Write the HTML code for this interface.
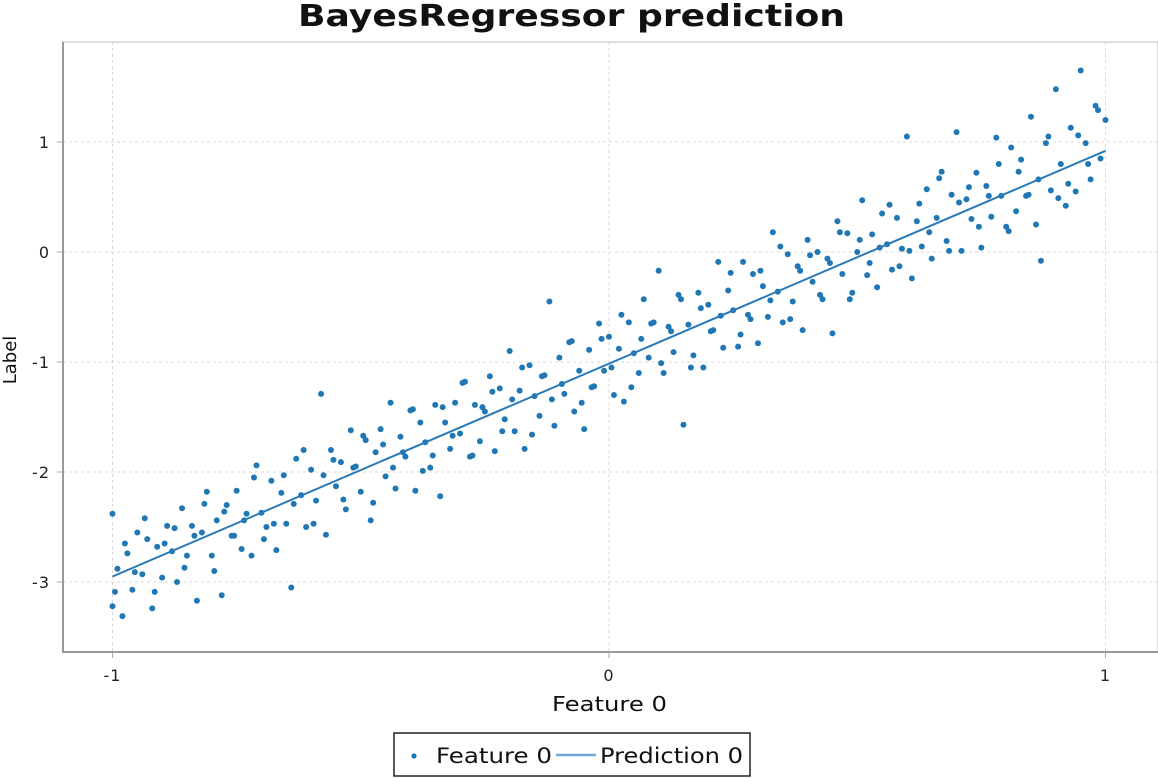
<!DOCTYPE html>
<html><head><meta charset="utf-8"><style>
html,body{margin:0;padding:0;background:#fff;}
svg{display:block;font-family:"DejaVu Sans","Liberation Sans",sans-serif;}
</style></head><body>
<svg id="chart" width="1158" height="778">
<text x="298" y="26" textLength="547" lengthAdjust="spacingAndGlyphs" font-size="30" font-weight="bold" fill="#111">BayesRegressor prediction</text>
<g id="grid"></g>
<rect x="63" y="42" width="1095" height="610" fill="none" stroke="#d4d4d4" stroke-width="1.5"/>
<line x1="63" y1="42" x2="63" y2="653" stroke="#999" stroke-width="2"/>
<line x1="62" y1="652" x2="1158" y2="652" stroke="#999" stroke-width="2"/>
<g id="xticks"></g>
<g id="yticks"></g>
<g id="points"></g>
<g id="pred"></g>
<text x="552" y="711" textLength="115" lengthAdjust="spacingAndGlyphs" font-size="20" fill="#111">Feature 0</text>
<text transform="translate(16,360) rotate(-90)" text-anchor="middle" font-size="18" fill="#111">Label</text>
<g>
<rect x="394" y="733" width="356" height="43" fill="#fff" stroke="#222" stroke-width="1.5"/>
<circle cx="414" cy="756" r="2.6" fill="#1f77b4"/>
<text x="436" y="763" textLength="116" lengthAdjust="spacingAndGlyphs" font-size="21" fill="#111">Feature 0</text>
<line x1="556" y1="755" x2="596" y2="755" stroke="#6fa8dc" stroke-width="2.5"/>
<text x="600" y="763" textLength="143" lengthAdjust="spacingAndGlyphs" font-size="21" fill="#111">Prediction 0</text>
</g>
</svg>
<script>
const xTicks=[-1,0,1];
const yTicks=[1,0,-1,-2,-3];
const xTickLabels=["-1","0","1"];
const yTickLabels=["1","0","-1","-2","-3"];
const predX=[-1,1];
const predY=[-2.95,0.92];
const ptsX=[-1.00,-1.00,-0.99,-0.98,-0.97,-0.96,-0.95,-0.94,-0.93,-0.92,-0.91,-0.90,-0.89,-0.88,-0.87,-0.86,-0.85,-0.84,-0.83,-0.82,-0.81,-0.80,-0.79,-0.78,-0.77,-0.76,-0.75,-0.74,-0.73,-0.72,-0.71,-0.70,-0.69,-0.68,-0.67,-0.66,-0.65,-0.64,-0.63,-0.62,-0.61,-0.60,-0.59,-0.58,-0.57,-0.56,-0.55,-0.54,-0.53,-0.52,-0.51,-0.50,-0.49,-0.48,-0.47,-0.46,-0.45,-0.44,-0.43,-0.42,-0.41,-0.40,-0.39,-0.38,-0.37,-0.36,-0.35,-0.34,-0.33,-0.32,-0.31,-0.30,-0.29,-0.28,-0.27,-0.26,-0.25,-0.24,-0.23,-0.22,-0.21,-0.20,-0.19,-0.18,-0.17,-0.16,-0.15,-0.14,-0.13,-0.12,-0.11,-0.10,-0.09,-0.08,-0.07,-0.06,-0.05,-0.04,-0.03,-0.02,-0.01,0.00,0.01,0.02,0.03,0.04,0.05,0.06,0.07,0.08,0.09,0.10,0.11,0.12,0.13,0.14,0.15,0.16,0.17,0.18,0.19,0.20,0.21,0.22,0.23,0.24,0.25,0.26,0.27,0.28,0.29,0.30,0.31,0.32,0.33,0.34,0.35,0.36,0.37,0.38,0.39,0.40,0.41,0.42,0.43,0.44,0.45,0.46,0.47,0.48,0.49,0.50,0.51,0.52,0.53,0.54,0.55,0.56,0.57,0.58,0.59,0.60,0.61,0.62,0.63,0.64,0.65,0.66,0.67,0.68,0.69,0.70,0.71,0.72,0.73,0.74,0.75,0.76,0.77,0.78,0.79,0.80,0.81,0.82,0.83,0.84,0.85,0.86,0.87,0.88,0.89,0.90,0.91,0.92,0.93,0.94,0.95,0.96,0.97,0.98,0.99,1.00,
-0.995,-0.975,-0.955,-0.935,-0.915,-0.895,-0.875,-0.855,-0.835,-0.815,-0.795,-0.775,-0.755,-0.735,-0.715,-0.695,-0.675,-0.655,-0.635,-0.615,-0.595,-0.575,-0.555,-0.535,-0.515,-0.495,-0.475,-0.455,-0.435,-0.415,-0.395,-0.375,-0.355,-0.335,-0.315,-0.295,-0.275,-0.255,-0.235,-0.215,-0.195,-0.175,-0.155,-0.135,-0.115,-0.095,-0.075,-0.055,-0.035,-0.015,0.005,0.025,0.045,0.065,0.085,0.105,0.125,0.145,0.165,0.185,0.205,0.225,0.245,0.265,0.285,0.305,0.325,0.345,0.365,0.385,0.405,0.425,0.445,0.465,0.485,0.505,0.525,0.545,0.565,0.585,0.605,0.625,0.645,0.665,0.685,0.705,0.725,0.745,0.765,0.785,0.805,0.825,0.845,0.865,0.885,0.905,0.925,0.945,0.965,0.985];
const ptsY=[-2.38,-3.22,-2.88,-3.31,-2.74,-3.07,-2.55,-2.93,-2.61,-3.24,-2.68,-2.96,-2.49,-2.72,-3.00,-2.33,-2.76,-2.49,-3.17,-2.55,-2.18,-2.76,-2.44,-3.12,-2.30,-2.58,-2.17,-2.70,-2.38,-2.76,-1.94,-2.37,-2.50,-2.08,-2.71,-2.19,-2.47,-3.05,-1.88,-2.21,-2.50,-1.98,-2.26,-1.29,-2.57,-1.80,-2.13,-1.91,-2.34,-1.62,-1.95,-2.18,-1.71,-2.44,-1.82,-1.61,-2.04,-1.37,-2.15,-1.68,-1.86,-1.44,-2.17,-1.55,-1.73,-1.96,-1.39,-2.22,-1.55,-1.79,-1.37,-1.65,-1.18,-1.86,-1.39,-1.72,-1.45,-1.13,-1.81,-1.24,-1.52,-0.90,-1.63,-1.26,-1.79,-1.03,-1.31,-1.49,-1.12,-0.45,-1.58,-0.96,-1.29,-0.82,-1.45,-1.08,-1.61,-0.89,-1.22,-0.65,-1.08,-0.77,-1.30,-0.88,-1.36,-0.64,-0.92,-1.10,-0.43,-0.96,-0.64,-0.17,-1.10,-0.68,-0.91,-0.39,-1.57,-0.66,-0.94,-0.37,-1.05,-0.48,-0.71,-0.09,-0.87,-0.35,-0.53,-0.86,-0.09,-0.57,-0.20,-0.83,-0.31,-0.59,0.18,-0.36,-0.64,-0.02,-0.45,-0.13,-0.71,0.11,-0.27,0.00,-0.43,-0.06,-0.74,0.28,-0.20,0.17,-0.37,0.00,0.47,-0.21,0.16,-0.32,0.35,0.07,-0.16,0.31,0.03,1.05,-0.24,0.28,0.05,0.57,-0.06,0.31,0.73,0.10,0.52,1.09,0.01,0.48,0.30,0.72,0.04,0.60,0.32,1.04,0.51,0.23,0.95,0.37,0.84,0.51,1.23,0.25,-0.08,0.99,0.56,1.48,0.80,0.42,1.13,0.55,1.65,0.99,0.66,1.33,0.85,1.20,
-3.09,-2.65,-2.91,-2.42,-3.09,-2.65,-2.51,-2.87,-2.58,-2.29,-2.90,-2.36,-2.58,-2.44,-2.05,-2.61,-2.47,-2.03,-2.29,-1.80,-2.47,-2.03,-1.89,-2.25,-1.96,-1.67,-2.28,-1.75,-1.96,-1.82,-1.43,-1.99,-1.85,-1.41,-1.67,-1.19,-1.85,-1.41,-1.27,-1.63,-1.34,-1.05,-1.66,-1.13,-1.34,-1.20,-0.81,-1.37,-1.23,-0.79,-1.05,-0.57,-1.23,-0.79,-0.65,-1.01,-0.72,-0.43,-1.05,-0.51,-0.72,-0.58,-0.19,-0.75,-0.61,-0.17,-0.44,0.05,-0.61,-0.17,-0.03,-0.39,-0.10,0.18,-0.43,0.11,-0.10,0.04,0.43,-0.13,0.01,0.44,0.18,0.67,0.01,0.45,0.59,0.23,0.51,0.80,0.19,0.73,0.52,0.66,1.05,0.49,0.62,1.06,0.80,1.29];

const X0=609, XS=496.5, Y0=252, YS=110;
function sx(v){return X0+v*XS;}
function sy(v){return Y0-v*YS;}
const NS="http://www.w3.org/2000/svg";
const grid=document.getElementById('grid');
const xt=document.getElementById('xticks');
const yt=document.getElementById('yticks');
xTicks.forEach((t,i)=>{
  const l=document.createElementNS(NS,'line');
  l.setAttribute('x1',sx(t));l.setAttribute('x2',sx(t));l.setAttribute('y1',42);l.setAttribute('y2',652);
  l.setAttribute('stroke','#d8d8d8');l.setAttribute('stroke-dasharray','3,3');
  
  
  grid.appendChild(l);
  const tk=document.createElementNS(NS,'line');
  tk.setAttribute('x1',sx(t));tk.setAttribute('x2',sx(t));tk.setAttribute('y1',653);tk.setAttribute('y2',658);
  tk.setAttribute('stroke','#aaa');
  
  
  xt.appendChild(tk);
  const tx=document.createElementNS(NS,'text');
  tx.setAttribute('x',sx(t));tx.setAttribute('y',681);tx.setAttribute('text-anchor','middle');
  tx.setAttribute('font-size','16');tx.setAttribute('fill','#222');tx.setAttribute('letter-spacing','1');
  tx.textContent=xTickLabels[i];
  
  
  xt.appendChild(tx);
});
yTicks.forEach((t,i)=>{
  const l=document.createElementNS(NS,'line');
  l.setAttribute('x1',63);l.setAttribute('x2',1158);l.setAttribute('y1',sy(t));l.setAttribute('y2',sy(t));
  l.setAttribute('stroke','#d8d8d8');l.setAttribute('stroke-dasharray','3,3');
  
  
  grid.appendChild(l);
  const tk=document.createElementNS(NS,'line');
  tk.setAttribute('x1',57);tk.setAttribute('x2',62);tk.setAttribute('y1',sy(t));tk.setAttribute('y2',sy(t));
  tk.setAttribute('stroke','#aaa');
  
  
  yt.appendChild(tk);
  const tx=document.createElementNS(NS,'text');
  tx.setAttribute('x',50);tx.setAttribute('y',sy(t)+6);tx.setAttribute('text-anchor','end');
  tx.setAttribute('font-size','16');tx.setAttribute('fill','#222');tx.setAttribute('letter-spacing','1');
  tx.textContent=yTickLabels[i];
  
  
  yt.appendChild(tx);
});
const pg=document.getElementById('points');
ptsX.forEach((x,i)=>{
  const c=document.createElementNS(NS,'circle');
  c.setAttribute('cx',sx(x));c.setAttribute('cy',sy(ptsY[i]));c.setAttribute('r',3);
  c.setAttribute('fill','#1f77b4');
  
  
  pg.appendChild(c);
});
const pl=document.createElementNS(NS,'polyline');
pl.setAttribute('points',predX.map((x,i)=>sx(x)+','+sy(predY[i])).join(' '));
pl.setAttribute('fill','none');pl.setAttribute('stroke','#2a7ab8');pl.setAttribute('stroke-width','2');


document.getElementById('pred').appendChild(pl);
</script>
</body></html>
